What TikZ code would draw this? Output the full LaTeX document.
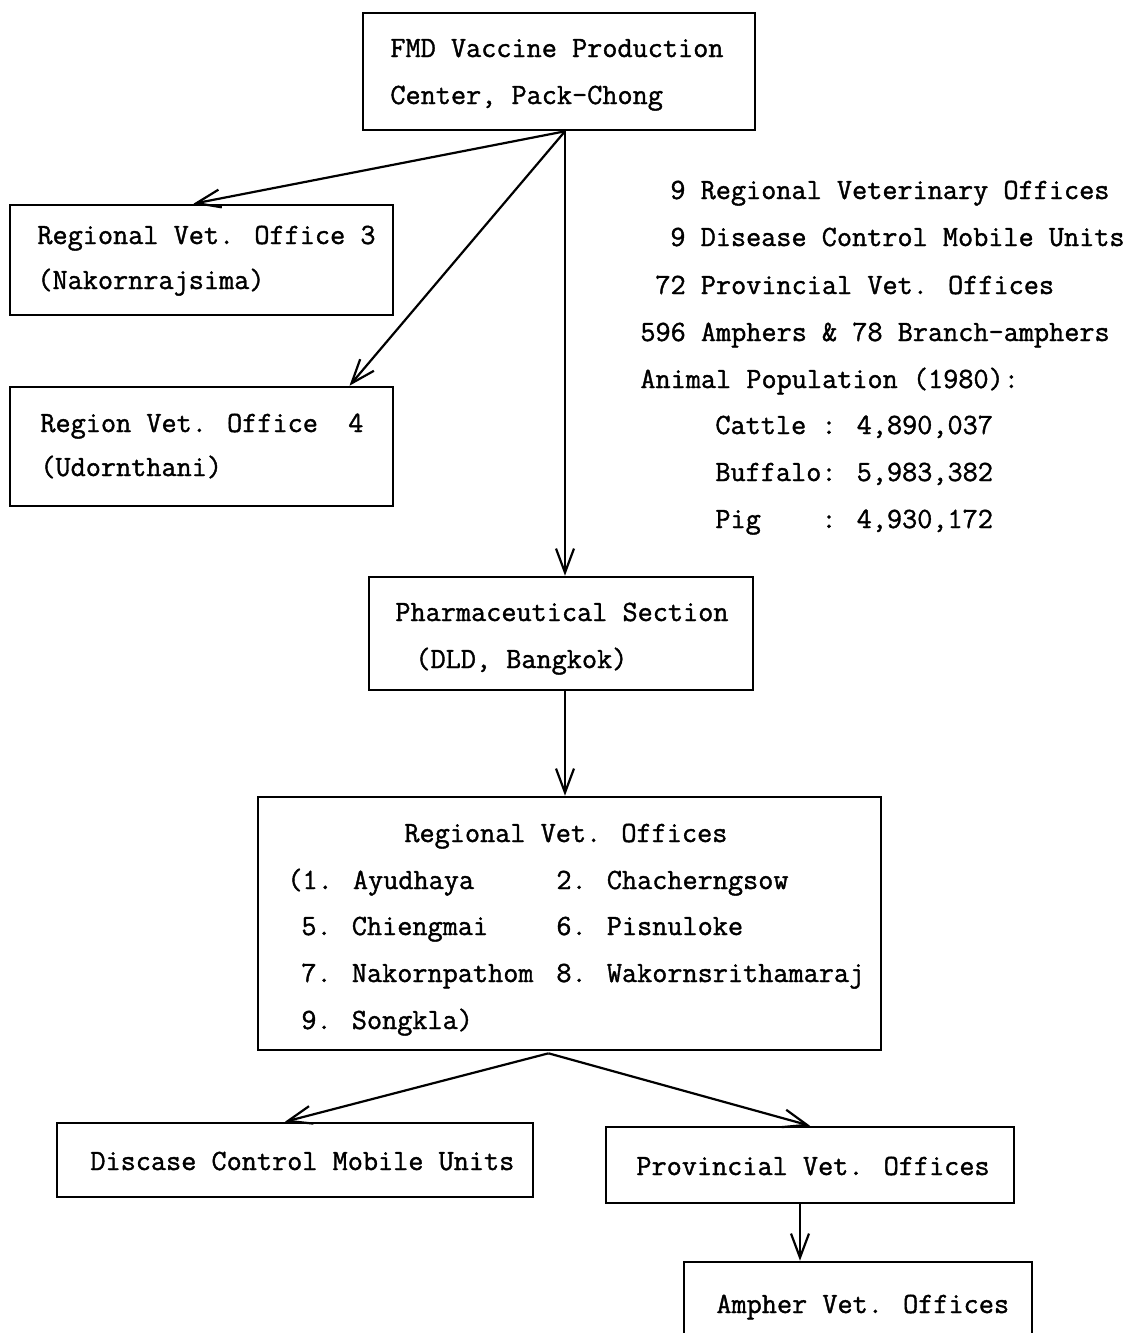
\documentclass[tikz,border=0pt]{standalone}
\usepackage{fontspec}
\newfontfamily\tw{Latin Modern Mono}[FakeBold=1.3]
\usetikzlibrary{arrows.meta,calc}
\begin{document}
\begin{tikzpicture}[x=0.5pt,y=-0.5pt,
 box/.style={draw,line width=1.3pt,inner sep=0pt},
 t/.style={anchor=base west,inner sep=0pt,font=\tw\fontsize{14.7}{17}\selectfont},
 arr/.style={line width=1.1pt,-{Straight Barb[length=12pt,width=9pt,line width=1.1pt]}}]
\useasboundingbox (0,0) rectangle (1128,1333);
\clip (0,0) rectangle (1128,1333);
% boxes
\node[box,minimum width=196pt,minimum height=58.5pt] (top) at (559,71.5) {};
\node[box,minimum width=191.5pt,minimum height=55pt] (rvo3) at (201.5,260) {};
\node[box,minimum width=191.5pt,minimum height=59.5pt] (rvo4) at (201.5,446.5) {};
\node[box,minimum width=192pt,minimum height=56.5pt] (pharm) at (561,633.5) {};
\node[box,minimum width=311.5pt,minimum height=126.5pt] (reg) at (569.5,923.5) {};
\node[box,minimum width=238pt,minimum height=37pt] (dcmu) at (295,1160) {};
\node[box,minimum width=204pt,minimum height=38pt] (pvo) at (810,1165) {};
\node[box,minimum width=174pt,minimum height=59pt] (amph) at (858,1321) {};
% texts in boxes
\node[t] (ta1) at (390,57) {FMD Vaccine Production};
\node[t] (ta2) at (390,104) {Center, Pack-Chong};
\node[t] (tb1) at (37,244) {Regional Vet. Office 3};
\node[t] (tb2) at (37,289) {(Nakornrajsima)};
\node[t] (tc1) at (40,432) {Region Vet. Office\phantom{x} 4};
\node[t] (tc2) at (40,476) {(Udornthani)};
\node[t] (td1) at (395,621) {Pharmaceutical Section};
\node[t] (td2) at (415,668) {(DLD, Bangkok)};
\node[t] (te0) at (404,842) {Regional Vet. Offices};
\node[t] (te1) at (287,889) {(1. Ayudhaya};
\node[t] (te2) at (556,889) {2. Chacherngsow};
\node[t] (te3) at (301,935) {5. Chiengmai};
\node[t] (te4) at (556,935) {6. Pisnuloke};
\node[t] (te5) at (301,982) {7. Nakornpathom};
\node[t] (te6) at (556,982) {8. Wakornsrithamaraj};
\node[t] (te7) at (301,1029) {9. Songkla)};
\node[t] (tf) at (90,1170) {Discase Control Mobile Units};
\node[t] (tg) at (636,1175) {Provincial Vet. Offices};
\node[t] (th) at (716,1313) {Ampher Vet. Offices};
% right-hand summary
\node[t] (r1) at (670,199) {9 Regional Veterinary Offices};
\node[t] (r2) at (670,246) {9 Disease Control Mobile Units};
\node[t] (r3) at (655,294) {72 Provincial Vet. Offices};
\node[t] (r4) at (640,341) {596 Amphers \& 78 Branch-amphers};
\node[t] (r5) at (640,388) {Animal Population (1980):};
\node[t] (r6) at (715,434) {Cattle : 4,890,037};
\node[t] (r7) at (715,481) {Buffalo: 5,983,382};
\node[t] (r8) at (715,528) {Pig\phantom{xxxx}: 4,930,172};
% connectors
\coordinate (fork) at ($(top.south)+(6,0)$);
\draw[arr] (fork) -- ($(rvo3.north)+(-8,0)$);
\draw[arr] (fork) -- ($(rvo4.north)+(148,0)$);
\draw[arr] (fork) -- (fork |- pharm.north);
\draw[arr] (fork |- pharm.south) -- (fork |- reg.north);
\coordinate (split) at ($(reg.south)+(-21,2)$);
\draw[arr] (split) -- ($(dcmu.north)+(-10,0)$);
\draw[arr] (split) -- (pvo.north);
\coordinate (pvoS) at ($(pvo.south)+(-10,0)$);
\draw[arr] (pvoS) -- (pvoS |- amph.north);
\end{tikzpicture}
\end{document}
